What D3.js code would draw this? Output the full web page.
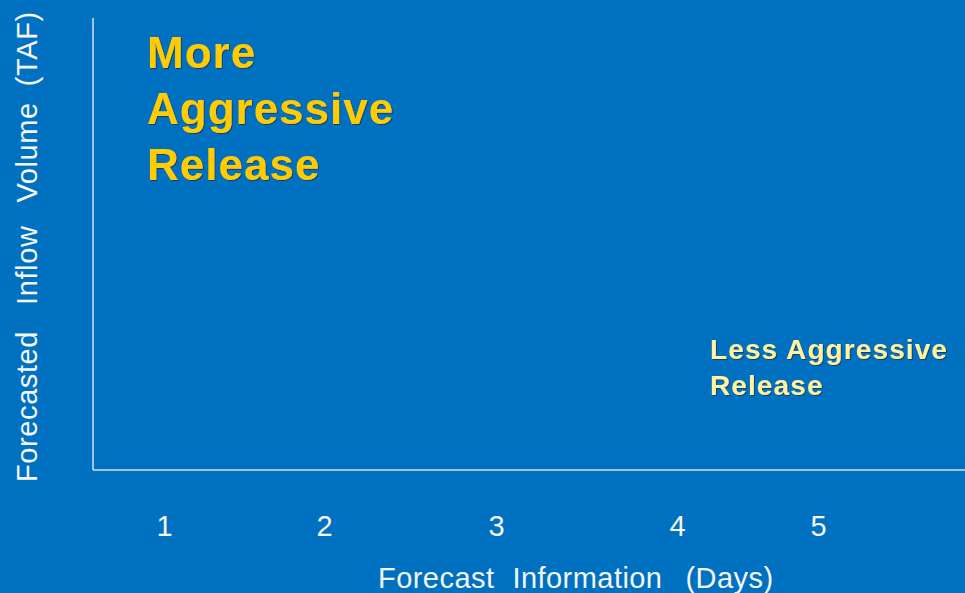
<!DOCTYPE html>
<html>
<head>
<meta charset="utf-8">
<script src="https://cdn.jsdelivr.net/npm/d3@7"></script>
<style>
  html, body { margin: 0; padding: 0; background: #0070C0; }
  svg { display: block; }
  text { font-family: "Liberation Sans", Arial, sans-serif; }
</style>
</head>
<body>
<svg id="chart" width="965" height="593"></svg>
<script>
// Forecast horizon (days) and their axis labels
const days = [1, 2, 3, 4, 5];
const dayLabels = ["1", "2", "3", "4", "5"];

// Axis titles, split into words
const xTitleWords = ["Forecast", "Information", "(Days)"];
const yTitleWords = ["Forecasted", "Inflow", "Volume", "(TAF)"];

// Region annotations
const highLabel = ["More", "Aggressive", "Release"];
const lowLabel = ["Less Aggressive", "Release"];

const W = 965, H = 593;
const frame = { left: 93, top: 18, right: 965, bottom: 470 };

const svg = d3.select("#chart");

svg.append("rect").attr("width", W).attr("height", H).attr("fill", "#0070C0");

const defs = svg.append("defs");
defs.append("filter").attr("id", "shadow")
  .attr("x", "-5%").attr("y", "-10%").attr("width", "110%").attr("height", "130%")
  .append("feDropShadow")
  .attr("dx", 1).attr("dy", 1).attr("stdDeviation", 0.6)
  .attr("flood-color", "#1a2a40").attr("flood-opacity", 0.7);

// Day positions along the bottom of the frame
const x = d3.scaleLinear().domain(days).range([164, 324, 496, 677, 818]);
// Vertical extent of the frame (volume, unitless)
const y = d3.scaleLinear().domain([0, 1]).range([frame.bottom, frame.top]);

const lineColor = "#D9DFE8";

// Frame: left and bottom lines
svg.append("line")
  .attr("x1", frame.left).attr("x2", frame.left)
  .attr("y1", y(0)).attr("y2", y(1))
  .attr("stroke", lineColor).attr("stroke-width", 1.5);
svg.append("line")
  .attr("x1", frame.left).attr("x2", frame.right)
  .attr("y1", y(0)).attr("y2", y(0))
  .attr("stroke", lineColor).attr("stroke-width", 1.5);

// Day tick labels
const xAxis = d3.axisBottom(x)
  .tickValues(days)
  .tickFormat((d, i) => dayLabels[i])
  .tickSize(0)
  .tickPadding(0);

const gx = svg.append("g")
  .attr("transform", `translate(0, ${y(0)})`)
  .call(xAxis);
gx.select(".domain").remove();
gx.selectAll("text")
  .attr("dy", null)
  .attr("y", 66)
  .attr("fill", "#F4F6F8")
  .attr("font-size", 29)
  .style("font-family", "'Liberation Sans', Arial, sans-serif");

// Helper: lay out words on one line with given gaps
function wordLine(g, words, gaps, size, color, spacing) {
  const t = g.append("text")
    .attr("font-size", size)
    .attr("letter-spacing", spacing)
    .attr("fill", color);
  words.forEach((w, i) => {
    t.append("tspan")
      .attr("dx", i === 0 ? 0 : gaps[i - 1])
      .text(w);
  });
  return t;
}

// X axis title
const gxt = svg.append("g").attr("transform", "translate(378, 588)");
wordLine(gxt, xTitleWords, [18, 23], 29, "#F4F6F8", 0.45);

// Y axis title (rotated)
const gyt = svg.append("g").attr("transform", "translate(37, 482) rotate(-90)");
wordLine(gyt, yTitleWords, [26, 23, 16], 29, "#F4F6F8", 0.6);

// "More Aggressive Release" annotation
const hi = svg.append("text")
  .attr("x", 147).attr("y", 68)
  .attr("font-size", 44)
  .attr("font-weight", "bold")
  .attr("letter-spacing", 1)
  .attr("fill", "#FFCC00")
  .attr("filter", "url(#shadow)");
hi.selectAll("tspan").data(highLabel).join("tspan")
  .attr("x", 147)
  .attr("dy", (d, i) => i === 0 ? 0 : 56)
  .text(d => d);

// "Less Aggressive Release" annotation
const lo = svg.append("text")
  .attr("x", 710).attr("y", 359)
  .attr("font-size", 28)
  .attr("font-weight", "bold")
  .attr("letter-spacing", 1.1)
  .attr("fill", "#FFF2A0")
  .attr("filter", "url(#shadow)");
lo.selectAll("tspan").data(lowLabel).join("tspan")
  .attr("x", 710)
  .attr("dy", (d, i) => i === 0 ? 0 : 36)
  .text(d => d);
</script>
</body>
</html>
